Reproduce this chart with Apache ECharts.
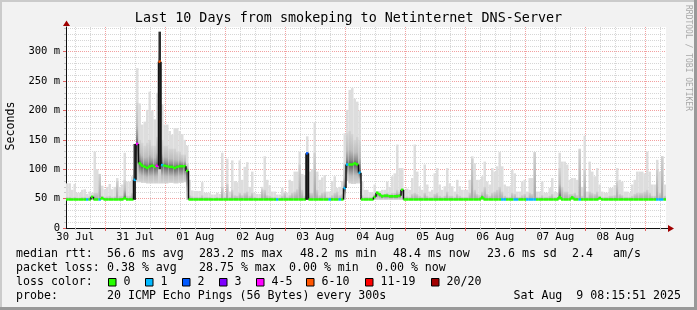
<!DOCTYPE html>
<html><head><meta charset="utf-8">
<script src="https://cdn.jsdelivr.net/npm/echarts@6/dist/echarts.min.js"></script>
<style>html,body{margin:0;padding:0;background:#f2f2f2}#c{width:697px;height:310px}</style>
</head><body><div id="c"></div>
<script>
// ---------- data (hourly bins, 240 h ending Sat Aug 9 08:15:51 2025) ----------
const START = Date.UTC(2025, 6, 30, 8, 15, 51);
const HOURS = 240;
const tickLabels = ['30 Jul','31 Jul','01 Aug','02 Aug','03 Aug','04 Aug','05 Aug','06 Aug','07 Aug','08 Aug'];
const yTickValues = [0, 50, 100, 150, 200, 250, 300];

// top of the lightest smoke (max ping), ms
const smokeMax = [
 76,76,65,75,60,60,65,66,58,62,60,130,100,92,72,66,70,75,66,70,85,70,74,128,
 79,79,88,100,272,212,176,181,201,232,200,185,230,334,210,176,176,165,159,170,170,165,160,150,
 140,82,64,63,63,63,78,60,60,60,57,57,60,58,128,60,118,62,115,80,78,115,82,104,
 112,70,96,60,58,58,70,122,82,73,62,62,57,57,68,62,60,82,80,96,96,130,92,90,
 156,96,100,180,96,82,86,90,62,62,80,88,68,70,80,161,201,235,238,220,215,200,79,65,
 65,61,61,74,62,63,65,65,79,70,88,93,142,102,102,65,67,65,85,142,96,71,65,108,
 74,62,65,93,102,74,65,71,102,76,71,62,82,71,65,65,65,82,122,110,82,82,88,113,
 79,74,102,96,105,129,105,74,71,71,99,93,62,62,79,82,62,85,85,129,62,62,79,60,
 60,68,85,62,60,128,113,113,108,82,85,85,82,135,70,157,62,113,96,88,102,74,62,60,
 60,68,68,73,102,82,79,62,62,60,74,82,96,96,96,93,130,96,74,74,116,96,122,74
];
// top of the denser (darker) smoke, ms
const smokeHi = [
 53,53,52,53,52,52,53,53,52,54,55,60,60,92,55,53,54,55,53,54,80,55,55,82,
 55,55,60,100,213,150,145,140,145,150,140,140,155,300,150,140,140,135,135,135,130,130,125,125,
 110,56,54,53,53,53,56,53,53,53,52,52,53,52,70,53,75,53,65,56,55,60,56,60,
 62,55,60,53,52,52,66,65,56,55,53,53,52,52,55,60,53,56,60,62,66,108,65,55,
 70,60,60,128,65,56,60,62,53,53,56,60,62,56,58,110,161,165,160,150,155,150,56,53,
 53,53,53,58,62,60,58,58,60,58,60,60,65,62,66,53,54,53,58,60,58,55,53,60,
 55,53,53,58,60,55,53,55,62,55,55,53,58,55,53,53,53,60,118,65,58,56,62,70,
 58,55,60,62,65,70,62,55,53,53,60,58,53,53,56,58,53,60,58,129,53,53,56,53,
 53,55,58,53,53,102,70,62,62,58,58,60,56,134,55,100,53,62,60,58,62,55,53,53,
 53,55,55,56,80,58,56,53,53,53,55,58,60,60,60,62,65,60,55,55,100,60,122,55
];
// bottom of the smoke (min ping), ms
const smokeLo = [
 48,48,48,48,48,48,48,48,48,48,48,48,48,48,48,48,48,48,48,48,48,48,48,48,
 48,48,48,48,78,78,77,77,76,76,76,76,76,76,76,76,76,77,77,76,76,77,77,78,
 48,48,48,48,48,48,48,48,48,48,48,48,48,48,48,48,48,48,48,48,48,48,48,48,
 48,48,48,48,48,48,48,48,48,48,48,48,48,48,48,48,48,48,48,48,48,48,48,48,
 48,48,48,48,48,48,48,48,48,48,48,48,48,48,48,48,80,76,75,75,76,76,48,48,
 48,48,48,48,48,48,48,48,48,48,48,48,48,48,48,48,48,48,48,48,48,48,48,48,
 48,48,48,48,48,48,48,48,48,48,48,48,48,48,48,48,48,48,48,48,48,48,48,48,
 48,48,48,48,48,48,48,48,48,48,48,48,48,48,48,48,48,48,48,48,48,48,48,48,
 48,48,48,48,48,48,48,48,48,48,48,48,48,48,48,48,48,48,48,48,48,48,48,48,
 48,48,48,48,48,48,48,48,48,48,48,48,48,48,48,48,48,48,48,48,48,48,48,48
];
// median rtt, ms
const median = [
 48.5,48.5,48.5,48.5,48.5,48.5,48.5,48.5,48.5,48.5,53,48.5,48.5,48.5,51,48.5,48.5,48.5,48.5,48.5,48.5,48.5,48.5,51,
 48.5,48.5,48.5,82,143,110,106,104,102,105,106,104,106,283,107,106,105,104,104,102,104,105,105,105,
 97,48.5,48.5,48.5,48.5,48.5,48.5,48.5,48.5,48.5,48.5,48.5,48.5,48.5,48.5,48.5,48.5,48.5,48.5,48.5,48.5,48.5,48.5,48.5,
 48.5,48.5,48.5,48.5,48.5,48.5,48.5,48.5,48.5,48.5,48.5,48.5,48.5,48.5,48.5,48.5,48.5,48.5,48.5,48.5,48.5,48.5,48.5,48.5,
 127,48.5,48.5,48.5,48.5,48.5,48.5,48.5,48.5,48.5,48.5,48.5,48.5,48.5,48.5,68,108,108,108,110,108,94,48.5,48.5,
 48.5,48.5,48.5,53,60,57,54,55,55,54,54,54,54,55,65,48.5,48.5,48.5,48.5,48.5,48.5,48.5,48.5,48.5,
 48.5,48.5,48.5,48.5,48.5,48.5,48.5,48.5,48.5,48.5,48.5,48.5,48.5,48.5,48.5,48.5,48.5,48.5,48.5,48.5,48.5,48.5,52,48.5,
 48.5,48.5,48.5,48.5,48.5,48.5,48.5,48.5,48.5,48.5,48.5,48.5,48.5,48.5,48.5,48.5,48.5,48.5,48.5,48.5,48.5,48.5,48.5,48.5,
 48.5,48.5,48.5,48.5,48.5,52.5,48.5,48.5,48.5,48.5,52,48.5,48.5,48.5,48.5,48.5,48.5,48.5,48.5,48.5,48.5,51,48.5,48.5,
 48.5,48.5,48.5,48.5,48.5,48.5,48.5,48.5,48.5,48.5,48.5,48.5,48.5,48.5,48.5,48.5,48.5,48.5,48.5,48.5,48.5,48.5,48.5,48.5
];
// lost pings out of 20
const loss = [
 0,0,0,0,0,0,0,0,1,0,0,0,0,1,0,0,0,0,0,0,0,0,0,0,
 0,0,0,1,4,0,0,0,0,0,0,0,4,7,1,0,0,0,0,0,0,0,0,0,
 0,0,0,0,0,0,0,0,0,0,0,0,0,0,0,0,0,0,0,0,0,0,0,0,
 0,0,0,0,0,0,0,0,0,0,0,0,1,0,0,0,0,0,0,0,0,0,0,0,
 2,0,0,0,0,0,0,0,0,1,0,0,0,1,0,1,1,0,0,0,0,1,0,0,
 0,0,0,0,0,0,0,0,0,0,0,0,0,0,0,0,0,0,0,0,0,0,0,0,
 0,0,0,0,0,0,0,0,0,0,0,0,0,0,0,0,0,0,0,0,0,0,0,0,
 0,0,0,0,0,0,1,1,0,0,0,1,1,0,0,0,1,1,1,1,0,0,0,0,
 0,0,0,0,0,0,0,0,0,0,0,0,0,1,0,0,0,0,0,0,0,0,0,0,
 0,0,0,0,0,0,0,0,0,0,0,0,0,0,0,0,0,0,0,0,1,1,1,0
];
// columns where the pings were tightly spread between two levels: [bin, low ms, high ms]
const darkBars = [[27, 48, 143], [37, 100, 334], [96, 48, 127]];

const lossLegend = [
  {label: '0', max: 0, color: '#26ff00'},
  {label: '1', max: 1, color: '#00b8ff'},
  {label: '2', max: 2, color: '#0059ff'},
  {label: '3', max: 3, color: '#7e00ff'},
  {label: '4-5', max: 5, color: '#ff00ff'},
  {label: '6-10', max: 10, color: '#ff5500'},
  {label: '11-19', max: 19, color: '#ff0000'},
  {label: '20/20', max: 20, color: '#a10000'}
];

// ---------- helpers ----------
const H = 3600000;
const hourOf = (y, m, d, hh) => (Date.UTC(y, m, d, hh) - START) / H;
const midnights = [], noons = [], sixHours = [];
for (let d = 0; d < 11; d++) {
  const mid = hourOf(2025, 6, 30 + d, 0);
  const noon = hourOf(2025, 6, 30 + d, 12);
  if (mid > 0 && mid < HOURS) midnights.push(mid);
  if (noon > 0 && noon < HOURS) noons.push(noon);
  for (const hh of [6, 12, 18]) {
    const v = hourOf(2025, 6, 30 + d, hh);
    if (v > 0 && v < HOURS) sixHours.push(v);
  }
}
const yMinor = [];
for (let v = 10; v <= 340; v += 10) if (v % 50) yMinor.push(v);
const colorForLoss = (l) => { for (const e of lossLegend) if (l <= e.max) return e.color; return '#a10000'; };

const MONO = '"DejaVu Sans Mono", monospace';
const f = (s) => s + 'px ' + MONO;

const smokeData = smokeMax.map((m, i) => [i, smokeLo[i], smokeHi[i], m, median[i]]);
const medData = median.map((m, i) => [i, m, loss[i], i > 0 ? median[i - 1] : m]);

const chart = echarts.init(document.getElementById('c'), null, {renderer: 'canvas'});

function text(x, y, s, opt) {
  return Object.assign({type: 'text', x: x, y: y, silent: true,
    style: Object.assign({text: s, font: f(11.6), fill: '#000', align: 'left', verticalAlign: 'middle',
      textAlign: 'left', textVerticalAlign: 'middle'}, opt || {})});
}
const graphics = [];
// frame
graphics.push({type: 'rect', shape: {x: 0, y: 0, width: 697, height: 2}, style: {fill: '#cbcbcb'}, silent: true});
graphics.push({type: 'rect', shape: {x: 0, y: 0, width: 2, height: 310}, style: {fill: '#cbcbcb'}, silent: true});
graphics.push({type: 'rect', shape: {x: 0, y: 307, width: 697, height: 3}, style: {fill: '#999'}, silent: true});
graphics.push({type: 'rect', shape: {x: 694, y: 0, width: 3, height: 310}, style: {fill: '#999'}, silent: true});
// title, unit, watermark
graphics.push(text(348.5, 19, 'Last 10 Days from smokeping to Netinternet DNS-Server', {font: f(13.4), align: 'center', textAlign: 'center'}));
graphics.push(Object.assign(text(11, 126, 'Seconds', {font: f(11.6), align: 'center', textAlign: 'center'}), {rotation: Math.PI / 2}));
graphics.push(Object.assign(text(688, 58, 'RRDTOOL / TOBI OETIKER', {font: f(8), fill: '#a8a8a8', align: 'center', textAlign: 'center'}), {rotation: -Math.PI / 2}));
// arrows
graphics.push({type: 'line', shape: {x1: 666, y1: 228.5, x2: 670, y2: 228.5}, style: {stroke: '#101010', lineWidth: 1}, silent: true});
graphics.push({type: 'polygon', shape: {points: [[668, 225], [674, 228.5], [668, 232]]}, style: {fill: '#a00000'}, silent: true, z: 100});
graphics.push({type: 'polygon', shape: {points: [[63, 26], [66.5, 20.5], [70, 26]]}, style: {fill: '#a00000'}, silent: true, z: 100});
// legend
graphics.push(text(16, 254, 'median rtt:'));
graphics.push(text(107, 254, '56.6 ms avg'));
graphics.push(text(199, 254, '283.2 ms max'));
graphics.push(text(300, 254, '48.2 ms min'));
graphics.push(text(393, 254, '48.4 ms now'));
graphics.push(text(487, 254, '23.6 ms sd'));
graphics.push(text(572, 254, '2.4'));
graphics.push(text(613, 254, 'am/s'));
graphics.push(text(16, 268, 'packet loss:'));
graphics.push(text(107, 268, '0.38 % avg'));
graphics.push(text(199, 268, '28.75 % max'));
graphics.push(text(289, 268, '0.00 % min'));
graphics.push(text(376, 268, '0.00 % now'));
graphics.push(text(16, 282, 'loss color:'));
const boxX = [108.5, 145.5, 182.5, 219.5, 256.5, 306.5, 365.5, 431.5];
lossLegend.forEach((e, k) => {
  graphics.push({type: 'rect', shape: {x: boxX[k], y: 278.5, width: 7.5, height: 7.5}, style: {fill: e.color, stroke: '#000', lineWidth: 1}, silent: true});
  graphics.push(text(boxX[k] + 15, 282, e.label));
});
graphics.push(text(16, 296, 'probe:'));
graphics.push(text(107, 296, '20 ICMP Echo Pings (56 Bytes) every 300s'));
graphics.push(text(681, 296, 'Sat Aug  9 08:15:51 2025', {align: 'right', textAlign: 'right'}));

const majorGrid = {show: true, lineStyle: {color: '#f2a0a0', width: 1, type: [1, 1]}};
const minorGrid = {show: true, lineStyle: {color: '#d6d6d6', width: 1, type: [1, 1]}};

chart.setOption({
  animation: false,
  backgroundColor: '#f2f2f2',
  grid: {left: 66, top: 27, width: 600, height: 201, show: true, backgroundColor: '#ffffff', borderWidth: 0, containLabel: false},
  xAxis: [
    {type: 'value', min: 0, max: HOURS, position: 'bottom',
      axisLine: {show: false}, axisLabel: {show: false},
      axisTick: {show: true, customValues: sixHours, length: 2, lineStyle: {color: '#c8c8c8'}},
      splitLine: minorGrid},
    {type: 'value', min: 0, max: HOURS, position: 'bottom',
      axisLine: {show: true, onZero: false, lineStyle: {color: '#101010', width: 1}},
      axisTick: {show: true, customValues: midnights, length: 3, lineStyle: {color: '#e06060'}},
      axisLabel: {show: true, customValues: noons, margin: 3, lineHeight: 12, fontFamily: MONO, fontSize: 10.5, color: '#000',
        formatter: (v) => { let k = 0, best = 1e9; noons.forEach((n, j) => { if (Math.abs(n - v) < best) { best = Math.abs(n - v); k = j; } }); return tickLabels[k]; }},
      splitLine: majorGrid}
  ],
  yAxis: [
    {type: 'value', min: 0, max: 342, position: 'left',
      axisLine: {show: false}, axisLabel: {show: false},
      axisTick: {show: true, customValues: yMinor, length: 2, lineStyle: {color: '#c8c8c8'}},
      splitLine: minorGrid},
    {type: 'value', min: 0, max: 342, position: 'left',
      axisLine: {show: true, onZero: false, lineStyle: {color: '#101010', width: 1}},
      axisTick: {show: true, customValues: yTickValues, length: 3, lineStyle: {color: '#e06060'}},
      axisLabel: {show: true, customValues: yTickValues, margin: 6, fontFamily: MONO, fontSize: 10.5, color: '#000',
        formatter: (v) => v === 0 ? '0' : v + ' m'},
      splitLine: majorGrid}
  ],
  graphic: graphics,
  series: [
    {type: 'custom', name: 'smoke', xAxisIndex: 1, yAxisIndex: 1, clip: true, silent: true,
      data: smokeData, encode: {x: 0, y: 3},
      renderItem: (params, api) => {
        const i = api.value(0);
        const x0 = api.coord([i, 0])[0], x1 = api.coord([i + 1, 0])[0];
        const yLo = api.coord([i, api.value(1)])[1];
        const yHi = api.coord([i, api.value(2)])[1];
        const yMax = api.coord([i, api.value(3)])[1];
        const yMed = api.coord([i, api.value(4)])[1];
        const span = Math.max(0.5, yLo - yHi);
        const t = Math.min(1, Math.max(0, (yMed - yHi) / span));
        const stops = t > 0.95
          ? [{offset: 0, color: '#d2d2d2'}, {offset: 1, color: '#a4a4a4'}]
          : [{offset: 0, color: '#d4d4d4'}, {offset: t * 0.55, color: '#bdbdbd'}, {offset: t * 0.85, color: '#8e8e8e'},
             {offset: t, color: '#5e5e5e'}, {offset: t + (1 - t) * 0.3, color: '#8e8e8e'},
             {offset: t + (1 - t) * 0.6, color: '#bdbdbd'}, {offset: 1, color: '#d4d4d4'}];
        return {type: 'group', children: [
          {type: 'rect', shape: {x: x0, y: yMax, width: x1 - x0, height: yLo - yMax}, style: {fill: '#dddddd'}},
          {type: 'rect', shape: {x: x0, y: yHi, width: x1 - x0, height: span},
            style: {fill: new echarts.graphic.LinearGradient(0, 0, 0, 1, stops)}}
        ]};
      }},
    {type: 'custom', name: 'dark', xAxisIndex: 1, yAxisIndex: 1, clip: true, silent: true,
      data: darkBars, encode: {x: 0, y: 2},
      renderItem: (params, api) => {
        const i = api.value(0);
        const x0 = api.coord([i, 0])[0], x1 = api.coord([i + 1, 0])[0];
        const y0 = api.coord([i, api.value(1)])[1], y1 = api.coord([i, api.value(2)])[1];
        return {type: 'rect', shape: {x: x0, y: y1, width: x1 - x0, height: y0 - y1}, style: {fill: '#2e2e2e'}};
      }},
    {type: 'custom', name: 'median', xAxisIndex: 1, yAxisIndex: 1, clip: true, silent: true, z: 5,
      data: medData, encode: {x: 0, y: 1},
      renderItem: (params, api) => {
        const i = api.value(0);
        const x0 = api.coord([i, 0])[0], x1 = api.coord([i + 1, 0])[0];
        const y = api.coord([i, api.value(1)])[1];
        const yp = api.coord([i, api.value(3)])[1];
        const color = colorForLoss(api.value(2));
        const ch = [];
        const d = Math.abs(yp - y);
        if (d > 0.5) ch.push({type: 'line', shape: {x1: x0, y1: yp, x2: x0, y2: y},
          style: {stroke: d > 2.5 ? '#111' : color, lineWidth: d > 2.5 ? 1.5 : 2.5}});
        ch.push({type: 'line', shape: {x1: x0, y1: y, x2: x1, y2: y}, style: {stroke: color, lineWidth: 2.5}});
        return {type: 'group', children: ch};
      }}
  ]
});
</script></body></html>
